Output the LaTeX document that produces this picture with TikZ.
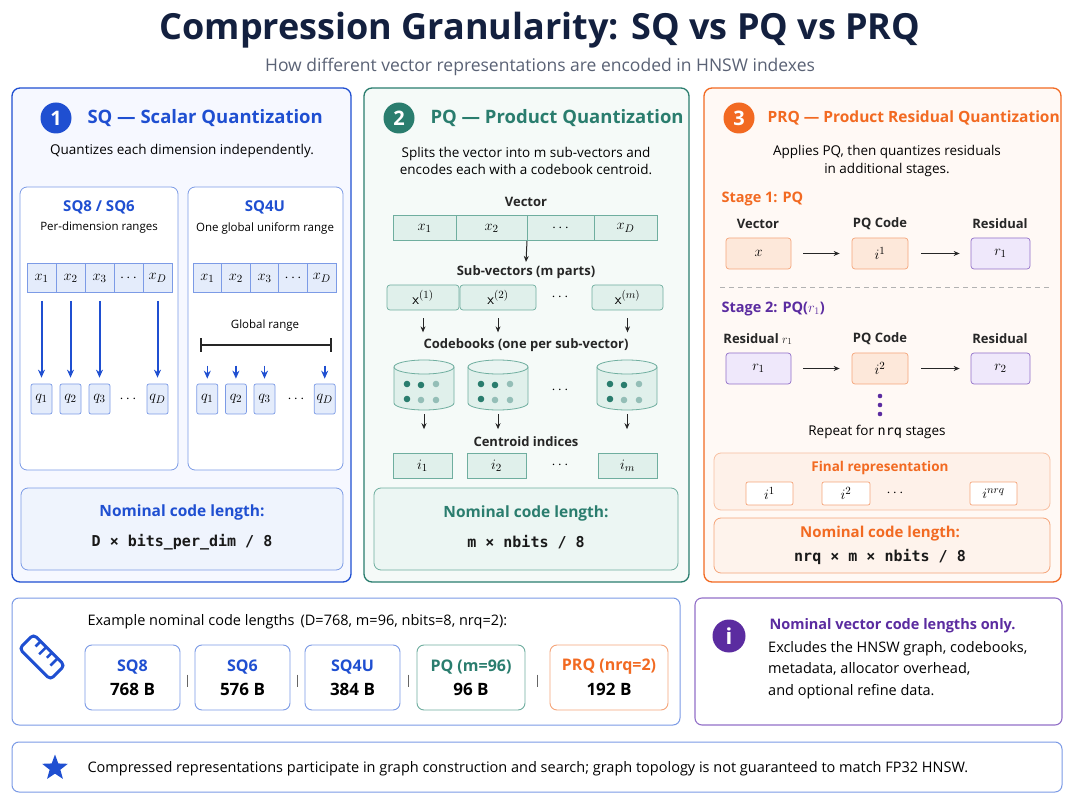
\documentclass[tikz,border=0pt]{standalone}
\usepackage{fontspec}
\setmainfont{Open Sans}
\setmonofont{DejaVu Sans Mono}
\usetikzlibrary{arrows.meta,shapes.geometric,calc}
\definecolor{navy}{HTML}{13203F}
\definecolor{blu}{HTML}{1F4FD1}
\definecolor{blufill}{HTML}{F6F8FF}
\definecolor{blucell}{HTML}{E4ECFB}
\definecolor{blubd}{HTML}{7C9BE6}
\definecolor{tea}{HTML}{2A7D6E}
\definecolor{teafill}{HTML}{F5FAF8}
\definecolor{teacell}{HTML}{E0F0EB}
\definecolor{teabd}{HTML}{6FAE9F}
\definecolor{ora}{HTML}{F26A22}
\definecolor{orafill}{HTML}{FFF9F5}
\definecolor{oracell}{HTML}{FDE8DA}
\definecolor{orabd}{HTML}{F5A57A}
\definecolor{pur}{HTML}{5B2CA0}
\definecolor{purcell}{HTML}{EFE8FB}
\definecolor{purbd}{HTML}{9270C8}
\definecolor{gry}{HTML}{5A6275}
\newcommand{\fs}[1]{\fontsize{#1}{#1}\selectfont}
\begin{document}
\begin{tikzpicture}[x=1pt,y=-1pt,
  panel/.style={draw=#1,line width=1.3pt,rounded corners=8pt},
  sub/.style={draw=#1,line width=0.8pt,rounded corners=7pt},
  cell/.style={draw=#1,line width=0.7pt,inner sep=0pt,font=\fs{15}},
  num/.style={circle,fill=#1,text=white,minimum size=31pt,inner sep=0pt,font=\fs{20}\bfseries},
  ptitle/.style={anchor=west,font=\fs{18.5}\bfseries,text=#1},
  body/.style={font=\fs{13.5},text=black},
  lbl/.style={font=\fs{13}\bfseries,text=black!85},
  arr/.style={-{Stealth[length=6pt,width=5pt]},line width=1pt,black!85},
  barr/.style={-{Stealth[length=8pt,width=7pt]},line width=2pt,blu},
  mono/.style={font=\fs{15}\ttfamily\bfseries,text=black!90},
  valbox/.style={draw=#1,line width=0.9pt,rounded corners=7pt,fill=white,minimum height=65pt,align=center,inner sep=0pt}
]
\useasboundingbox (0,0) rectangle (1080,810);
\fill[white] (0,0) rectangle (1080,810);
% title
\node[font=\fs{36}\bfseries,text=navy] (title) at (540,30) {Compression Granularity: SQ vs PQ vs PRQ};
\node[font=\fs{17.5},text=gry] (subt) at (540,67) {How different vector representations are encoded in HNSW indexes};

% ===== Panel 1
\draw[panel=blu,fill=blufill] (12,88) rectangle (351,582);
\node[num=blu] (n1) at (56,118) {1};
\node[ptitle=blu] (t1) at (84,118) {SQ — Scalar Quantization};
\node[body] (s1) at (182,151) {Quantizes each dimension independently.};
\draw[sub=blubd,fill=white] (20,187) rectangle (178,470);
\draw[sub=blubd,fill=white] (188,187) rectangle (343,470);
\node[font=\fs{15}\bfseries,text=blu] (sqa) at (99,207) {SQ8 / SQ6};
\node[font=\fs{11.5}] (sqad) at (99,228) {Per-dimension ranges};
\node[font=\fs{15}\bfseries,text=blu] (sqb) at (265,207) {SQ4U};
\node[font=\fs{11.5}] (sqbd) at (265,228) {One global uniform range};
% cells
\foreach \i/\t in {1/$x_1$,2/$x_2$,3/$x_3$,4/$\cdots$,5/$x_D$}{
  \node[cell=blubd,fill=blucell,minimum width=29pt,minimum height=29pt] (a\i) at ({27+29*(\i-0.5)},278) {\t};
  \node[cell=blubd,fill=blucell,minimum width=28.6pt,minimum height=29pt] (b\i) at ({193+28.6*(\i-0.5)},278) {\t};
}
\foreach \i/\t in {1/$q_1$,2/$q_2$,3/$q_3$,5/$q_D$}{
  \node[cell=blubd,fill=blucell,rounded corners=2pt,minimum width=21pt,minimum height=30pt] (qa\i) at ({27+29*(\i-0.5)},399) {\t};
  \node[cell=blubd,fill=blucell,rounded corners=2pt,minimum width=21pt,minimum height=30pt] (qb\i) at ({193+28.6*(\i-0.5)+(\i==5 ? 3 : 0)},399) {\t};
  \draw[barr] ([yshift=-8pt]a\i.south) -- ([yshift=6pt]qa\i.north);
  \draw[barr,line width=1.6pt] ([yshift=18pt]qb\i.north) -- ([yshift=5pt]qb\i.north);
}
\node[font=\fs{14}] (qad) at (128,399) {$\cdots$};
\node[font=\fs{14}] (qbd) at (296,399) {$\cdots$};
\node[font=\fs{11.5}] (glr) at (265,326) {Global range};
\coordinate (gl) at (201,345); \coordinate (gr) at (331,345);
\draw[line width=1.4pt,black!85] (gl) -- (gr);
\draw[line width=1.4pt,black!85] ([yshift=-7pt]gl) -- ([yshift=7pt]gl);
\draw[line width=1.4pt,black!85] ([yshift=-7pt]gr) -- ([yshift=7pt]gr);
\draw[sub=blubd,fill=blucell!60] (21,488) rectangle (343,570);
\node[font=\fs{15.5}\bfseries,text=blu] (nc1) at (182,512) {Nominal code length:};
\node[mono] (f1) at (182,542) {D × bits\_per\_dim / 8};

% ===== Panel 2
\draw[panel=tea,fill=teafill] (364,88) rectangle (689,582);
\node[num=tea] (n2) at (399,118) {2};
\node[ptitle=tea] (t2) at (427,118) {PQ — Product Quantization};
\node[body,align=center] (s2) at (526,161) {Splits the vector into m sub-vectors and\\[4pt]encodes each with a codebook centroid.};
\node[lbl] (vec) at (526,202) {Vector};
\node[cell=teabd,fill=teacell,minimum width=63pt,minimum height=25pt] (v1) at (424.5,228) {$x_1$};
\node[cell=teabd,fill=teacell,minimum width=71pt,minimum height=25pt] (v2) at (491.5,228) {$x_2$};
\node[cell=teabd,fill=teacell,minimum width=67pt,minimum height=25pt] (v3) at (560.5,228) {$\cdots$};
\node[cell=teabd,fill=teacell,minimum width=63pt,minimum height=25pt] (v4) at (625.5,228) {$x_D$};
\node[lbl] (subv) at (526,272) {Sub-vectors (m parts)};
\draw[arr] (527,241) -- (subv.north);
\node[cell=teabd,fill=teacell,rounded corners=3pt,minimum width=72pt,minimum height=25pt] (u1) at (423,297.5) {$\mathsf{x}^{(1)}$};
\node[cell=teabd,fill=teacell,rounded corners=3pt,minimum width=76pt,minimum height=25pt] (u2) at (498,297.5) {$\mathsf{x}^{(2)}$};
\node[font=\fs{14}] (ud) at (560,297.5) {$\cdots$};
\node[cell=teabd,fill=teacell,rounded corners=3pt,minimum width=71pt,minimum height=25pt] (u3) at (627.5,297.5) {$\mathsf{x}^{(m)}$};
\node[lbl] (cbl) at (526,345) {Codebooks (one per sub-vector)};
\foreach \k/\x in {1/424,2/498,3/627}{
  \node[minimum width=60pt,minimum height=52pt,inner sep=0pt] (cb\k) at (\x,385) {};
  \draw[teabd,fill=teacell,line width=0.8pt] (\x-30,367) -- (\x-30,403) arc[start angle=180,end angle=0,x radius=30,y radius=7] -- (\x+30,367);
  \draw[teabd,fill=teacell!70,line width=0.8pt] (\x,367) ellipse[x radius=30,y radius=7];
  \fill[tea] (\x-17,384) circle(3.3) (\x-3,385) circle(3.3) (\x-17,399) circle(3.3);
  \fill[tea!50] (\x+12,384) circle(3.3) (\x-3,400) circle(3.3) (\x+12,400) circle(3.3);
  \draw[arr] (u\k.south) ++(0,8) -- ++(0,14);
  \draw[arr] (cb\k.south) ++(0,3) -- ++(0,15);
}
\node[font=\fs{14}] (cbd) at (560,390) {$\cdots$};
\node[lbl] (cil) at (526,442) {Centroid indices};
\node[cell=teabd,fill=teacell,minimum width=59pt,minimum height=25pt] (i1) at (422.5,465.5) {$i_1$};
\node[cell=teabd,fill=teacell,minimum width=59pt,minimum height=25pt] (i2) at (496.5,465.5) {$i_2$};
\node[font=\fs{14}] (id) at (560,465.5) {$\cdots$};
\node[cell=teabd,fill=teacell,minimum width=59pt,minimum height=25pt] (i3) at (627.5,465.5) {$i_m$};
\draw[sub=teabd,fill=teacell!60] (374,488) rectangle (678,570);
\node[font=\fs{15.5}\bfseries,text=tea] (nc2) at (526,513) {Nominal code length:};
\node[mono] (f2) at (526,542) {m × nbits / 8};

% ===== Panel 3
\draw[panel=ora,fill=orafill] (704,88) rectangle (1061,582);
\node[num=ora] (n3) at (739,118) {3};
\node[ptitle=ora,font=\fs{15.5}\bfseries] (t3) at (764,118) {PRQ — Product Residual Quantization};
\node[body,align=center] (s3) at (887,161) {Applies PQ, then quantizes residuals\\[4pt]in additional stages.};
\node[anchor=west,font=\fs{14.5}\bfseries,text=ora] (st1) at (718,199) {Stage 1: PQ};
\node[lbl] (l11) at (758,224) {Vector};
\node[lbl] (l12) at (880,224) {PQ Code};
\node[lbl] (l13) at (1000,224) {Residual};
\node[cell=orabd,fill=oracell,rounded corners=3pt,minimum width=65pt,minimum height=31pt] (x1) at (758.5,253.5) {$x$};
\node[cell=orabd,fill=oracell,rounded corners=3pt,minimum width=56pt,minimum height=31pt] (c1) at (880,253.5) {$i^1$};
\node[cell=purbd,fill=purcell,rounded corners=3pt,minimum width=59pt,minimum height=31pt] (r1) at (1000.5,253.5) {$r_1$};
\draw[arr] ([xshift=12pt]x1.east) -- ([xshift=-12pt]c1.west);
\draw[arr] ([xshift=13pt]c1.east) -- ([xshift=-11pt]r1.west);
\draw[dashed,black!30,line width=0.8pt,dash pattern=on 5pt off 4pt] (720,287) -- (1050,287);
\node[anchor=west,font=\fs{14.5}\bfseries,text=pur] (st2) at (718,309) {Stage 2: PQ($r_1$)};
\node[lbl] (l21) at (758,339) {Residual $r_1$};
\node[lbl] (l22) at (880,339) {PQ Code};
\node[lbl] (l23) at (1000,339) {Residual};
\node[cell=purbd,fill=purcell,rounded corners=3pt,minimum width=65pt,minimum height=31pt] (x2) at (758.5,368.5) {$r_1$};
\node[cell=orabd,fill=oracell,rounded corners=3pt,minimum width=56pt,minimum height=31pt] (c2) at (880,368.5) {$i^2$};
\node[cell=purbd,fill=purcell,rounded corners=3pt,minimum width=59pt,minimum height=31pt] (r2) at (1000.5,368.5) {$r_2$};
\draw[arr] ([xshift=12pt]x2.east) -- ([xshift=-12pt]c2.west);
\draw[arr] ([xshift=13pt]c2.east) -- ([xshift=-11pt]r2.west);
\fill[pur] (880,396) circle(2.3) (880,405) circle(2.3) (880,414) circle(2.3);
\node[body] (rep) at (877,432) {Repeat for \texttt{nrq} stages};
\draw[sub=orabd!70,fill=oracell!60] (714,453) rectangle (1050,510);
\node[font=\fs{13.5}\bfseries,text=ora] (fr) at (880,468) {Final representation};
\node[cell=orabd,fill=white,rounded corners=2pt,minimum width=47pt,minimum height=23pt] (fr1) at (769.5,493.5) {$i^1$};
\node[cell=orabd,fill=white,rounded corners=2pt,minimum width=48pt,minimum height=23pt] (fr2) at (846,493.5) {$i^2$};
\node[font=\fs{14}] (frd) at (895,493.5) {$\cdots$};
\node[cell=orabd,fill=white,rounded corners=2pt,minimum width=47pt,minimum height=23pt] (fr3) at (993.5,493.5) {$i^{nrq}$};
\draw[sub=orabd,fill=oracell!50] (714,518) rectangle (1050,573);
\node[font=\fs{15}\bfseries,text=ora] (nc3) at (880,534) {Nominal code length:};
\node[mono] (f3) at (880,557) {nrq × m × nbits / 8};

% ===== Bottom-left
\draw[sub=blubd,line width=1pt,fill=white] (12,598) rectangle (680,725);
\begin{scope}[shift={(42,657)},rotate=-45]
  \draw[blu,line width=3pt,rounded corners=4pt] (-22,-10) rectangle (22,10);
  \draw[blu,line width=2.6pt] (-12,-10) -- (-12,-3) (-4,-10) -- (-4,0) (4,-10) -- (4,-3) (12,-10) -- (12,0);
\end{scope}
\node[anchor=west,font=\fs{14.5}] (ex) at (84,622) {Example nominal code lengths \,(D=768, m=96, nbits=8, nrq=2):};
\node[valbox=blubd,minimum width=95pt] (e1) at (132.5,677.5) {\fs{16}\bfseries\color{blu}SQ8\\[8pt]\fs{17}\bfseries 768 B};
\node[valbox=blubd,minimum width=95pt] (e2) at (242.5,677.5) {\fs{16}\bfseries\color{blu}SQ6\\[8pt]\fs{17}\bfseries 576 B};
\node[valbox=blubd,minimum width=95pt] (e3) at (352.5,677.5) {\fs{16}\bfseries\color{blu}SQ4U\\[8pt]\fs{17}\bfseries 384 B};
\node[valbox=teabd,minimum width=108pt] (e4) at (471,677.5) {\fs{16}\bfseries\color{tea}PQ (m=96)\\[8pt]\fs{17}\bfseries 96 B};
\node[valbox=orabd,minimum width=118pt] (e5) at (609,677.5) {\fs{16}\bfseries\color{ora}PRQ (nrq=2)\\[8pt]\fs{17}\bfseries 192 B};
\foreach \a/\b in {e1/e2,e2/e3,e3/e4,e4/e5}{
  \draw[black!60,line width=1.2pt] ($(\a.east)!0.5!(\b.west)+(0,-3)$) -- ++(0,12);
}

% ===== Info box
\draw[sub=purbd,line width=1.1pt,fill=white] (695,598) rectangle (1062,725);
\node[circle,fill=pur,text=white,minimum size=33pt,inner sep=0pt,font=\fs{22}\bfseries] (ic) at (729,636) {i};
\node[anchor=west,font=\fs{14.5}\bfseries,text=pur] (it) at (766,626) {Nominal vector code lengths only.};
\node[anchor=north west,font=\fs{14.5},align=left,inner sep=0pt] (itx) at (768,641) {Excludes the HNSW graph, codebooks,\\[7pt]metadata, allocator overhead,\\[7pt]and optional refine data.};

% ===== Footer
\draw[sub=blubd,line width=1pt,fill=white] (12,742) rectangle (1062,792);
\node[star,star points=5,star point ratio=2.4,fill=blu,minimum size=27pt,inner sep=0pt] (st) at (55,768) {};
\node[anchor=west,font=\fs{14.5}] (ft) at (84,769) {Compressed representations participate in graph construction and search; graph topology is not guaranteed to match FP32 HNSW.};
\end{tikzpicture}
\end{document}
